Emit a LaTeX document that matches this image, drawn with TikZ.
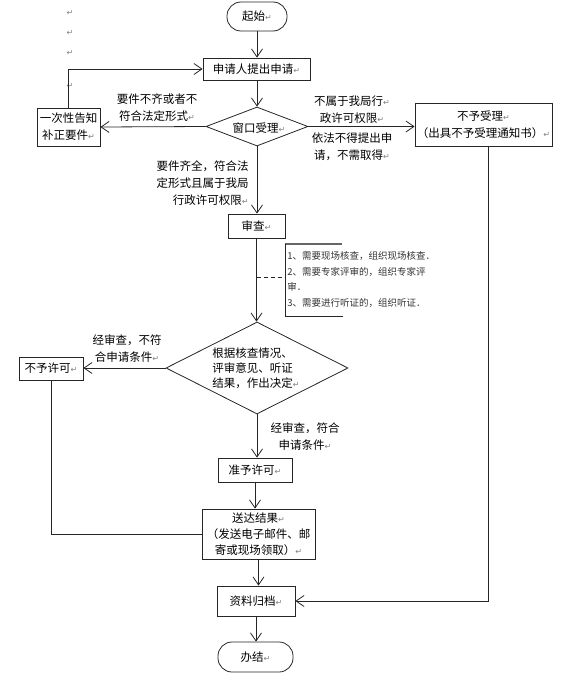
\documentclass[tikz,border=0pt]{standalone}
\usepackage{fontspec}
\setmainfont{Noto Sans CJK SC}
\newfontfamily\dejavu{DejaVu Sans}
\usetikzlibrary{arrows.meta,shapes.geometric}
\newcommand{\pmk}{{\dejavu\fontsize{8}{8}\selectfont\color{gray}↵}}
\begin{document}
\begin{tikzpicture}[x=1pt,y=-1pt, line width=0.8pt, draw=black!85,
  every node/.style={font=\fontsize{11.5}{17}\selectfont, inner sep=0pt},
  box/.style={draw, rectangle, align=center},
  term/.style={draw, rectangle, rounded corners=14pt},
  dia/.style={draw, diamond},
  lbl/.style={align=center},
  arr/.style={-{Straight Barb[length=8pt,width=11pt]}},
  notefont/.style={font=\fontsize{9.5}{15.7}\selectfont, align=left, anchor=north west, text=black!80},
  mk/.style={}
]
\path[use as bounding box] (0,0) rectangle (569,693);

% stray paragraph marks
\node[mk] (m1) at (70,13) {\pmk};
\node[mk] (m2) at (70,33) {\pmk};
\node[mk] (m3) at (70,53) {\pmk};
\node[mk] (m4) at (70,86) {\pmk};

% nodes
\node[term, minimum width=60pt, minimum height=29pt] (start) at (257,16.5) {起始\pmk};
\node[box, minimum width=107pt, minimum height=22pt] (apply) at (256.5,69) {申请人提出申请\pmk};
\node[dia, minimum width=102pt, minimum height=39pt] (win) at (257,126.5) {};
\node (wintext) at (259,128) {窗口受理\pmk};
\node[box, minimum width=63pt, minimum height=38pt] (notify) at (68.5,127) {一次性告知\\补正要件\pmk};
\node[box, minimum width=137pt, minimum height=43pt] (reject) at (483.5,124.5) {不予受理\pmk\\（出具不予受理通知书）\pmk};
\node[box, minimum width=57pt, minimum height=24pt] (review) at (256.5,226) {审查\pmk};
\node[dia, minimum width=182pt, minimum height=92pt] (decide) at (257,368) {};
\node[align=left, font=\fontsize{11.5}{15}\selectfont] (dtext) at (256,368) {根据核查情况、\\评审意见、听证\\结果，作出决定\pmk};
\node[box, minimum width=64pt, minimum height=23pt] (deny) at (51,368.5) {不予许可\pmk};
\node[box, minimum width=74pt, minimum height=24pt] (grant) at (255,470) {准予许可\pmk};
\node[box, minimum width=113pt, minimum height=50pt, font=\fontsize{11.5}{16}\selectfont] (deliver) at (258.5,534) {送达结果\pmk\\（发送电子邮件、邮\\寄或现场领取）\pmk};
\node[box, minimum width=78pt, minimum height=30pt] (archive) at (256,601) {资料归档\pmk};
\node[term, minimum width=75pt, minimum height=30pt] (done) at (255.5,657) {办结\pmk};

% labels
\node[lbl] (l1) at (157,108) {要件不齐或者不\\符合法定形式\pmk};
\node[lbl] (l2) at (352,110) {不属于我局行\pmk\\政许可权限\pmk};
\node[lbl] (l3) at (352,147) {依法不得提出申\\请，不需取得\pmk};
\node[align=right, anchor=east] (l4) at (249,183) {要件齐全，符合法\\定形式且属于我局\\行政许可权限\pmk};
\node[lbl] (l5) at (127,349) {经审查，不符\\合申请条件\pmk};
\node[lbl] (l6) at (305,437) {经审查，符合\\申请条件\pmk};

% annotation
\coordinate (ntop) at (285,244);
\coordinate (nbot) at (285,316);
\coordinate (notel) at (285,277);
\draw[line width=1.3pt, black!60] (ntop) -- ++(57,0);
\draw[line width=0.6pt] (ntop) -- (nbot) -- ++(58,0);
\node[notefont] (note) at (287,251) {1、需要现场核查，组织现场核查．\\2、需要专家评审的，组织专家评\\审．\\3、需要进行听证的，组织听证．};
\draw[dash pattern=on 4pt off 3pt] (review.south |- notel) -- (notel);

% connectors
\draw[arr] (start.south) -- (start.south |- apply.north);
\draw[arr] (apply.south -| win.north) -- (win.north);
\draw[arr] (win.west) -- (notify.east);
\draw[arr] (notify.north) |- (apply.west);
\draw[arr] (win.east) -- (win.east -| reject.west);
\draw[arr] (win.south) -- (win.south |- review.north);
\draw[arr] (review.south) -- (review.south |- decide.north);
\draw[arr] (decide.west) -- (decide.west -| deny.east);
\draw[arr] (decide.south) -- (decide.south |- grant.north);
\draw[arr] (grant.south) -- (grant.south |- deliver.north);
\draw (deny.south) |- (deliver.west);
\draw[arr] (deliver.south) -- (deliver.south |- archive.north);
\draw[arr] (archive.south) -- (archive.south |- done.north);
\draw[arr] ([xshift=4.5pt]reject.south) |- (archive.east);
\end{tikzpicture}
\end{document}
